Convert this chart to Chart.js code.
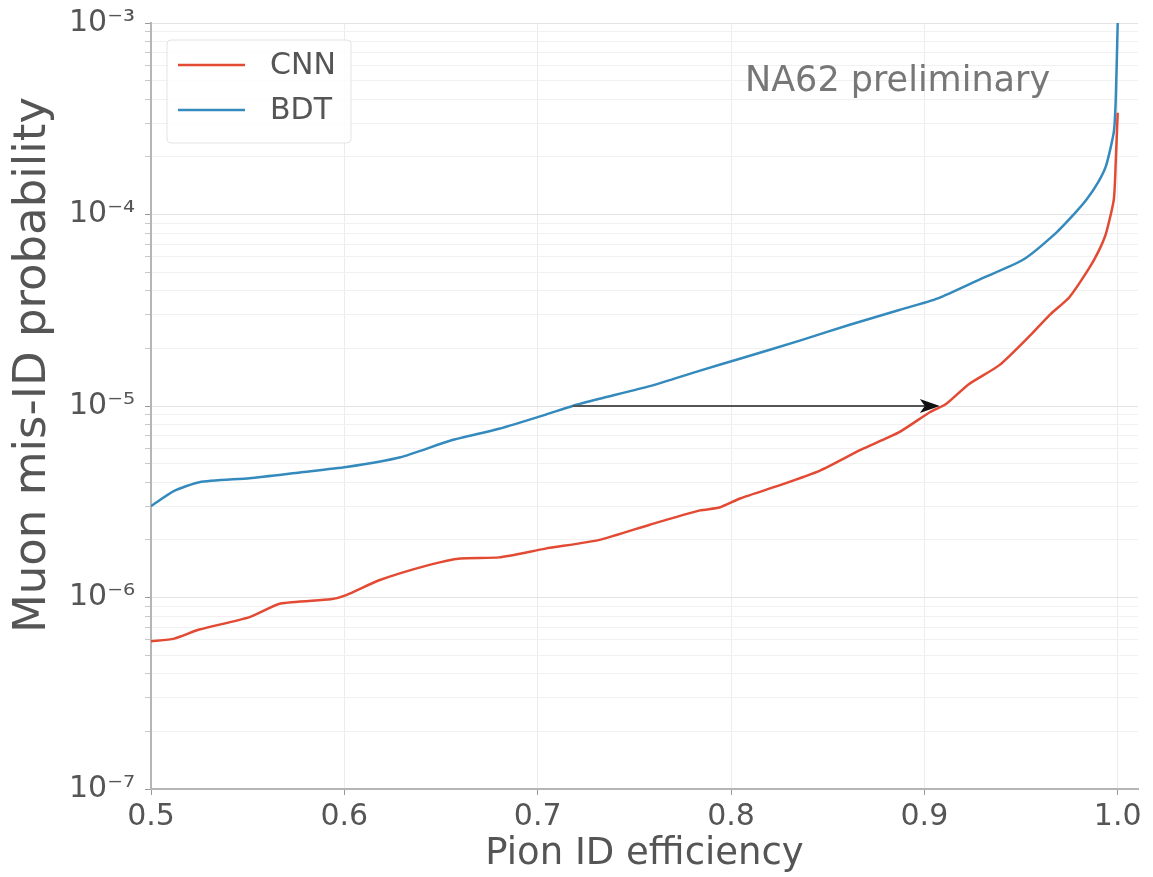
<!DOCTYPE html>
<html>
<head>
<meta charset="utf-8">
<script src="https://cdn.jsdelivr.net/npm/chart.js@4.4.0/dist/chart.umd.min.js"></script>
<style>
html, body { margin: 0; padding: 0; background: #fff; }
</style>
</head>
<body>
<canvas id="rocChart" width="1153" height="877"></canvas>
<script>
// pion ID efficiency vs muon mis-ID probability
const cnnEff = [0.500, 0.512, 0.525, 0.551, 0.567, 0.593, 0.601, 0.618, 0.644, 0.660, 0.680, 0.704, 0.732, 0.758, 0.784, 0.794, 0.805, 0.825, 0.846, 0.867, 0.887, 0.903, 0.911, 0.923, 0.939, 0.955, 0.965, 0.975, 0.985, 0.990, 0.994, 0.998, 0.999, 1.000];
const cnnMis = [5.9e-7, 6.1e-7, 6.8e-7, 7.9e-7, 9.3e-7, 9.8e-7, 1.03e-6, 1.23e-6, 1.48e-6, 1.6e-6, 1.62e-6, 1.8e-6, 2.0e-6, 2.4e-6, 2.85e-6, 2.95e-6, 3.3e-6, 3.85e-6, 4.6e-6, 5.9e-6, 7.3e-6, 9.3e-6, 1.02e-5, 1.3e-5, 1.64e-5, 2.35e-5, 3.0e-5, 3.7e-5, 5.2e-5, 6.4e-5, 8.0e-5, 1.2e-4, 1.9e-4, 3.4e-4];

const bdtEff = [0.500, 0.512, 0.525, 0.551, 0.577, 0.601, 0.629, 0.655, 0.680, 0.704, 0.718, 0.732, 0.758, 0.784, 0.805, 0.836, 0.861, 0.887, 0.907, 0.929, 0.951, 0.968, 0.978, 0.984, 0.990, 0.994, 0.998, 0.999, 1.000];
const bdtMis = [3.0e-6, 3.6e-6, 4.0e-6, 4.2e-6, 4.5e-6, 4.8e-6, 5.4e-6, 6.6e-6, 7.6e-6, 9.0e-6, 1.0e-5, 1.09e-5, 1.27e-5, 1.53e-5, 1.77e-5, 2.2e-5, 2.65e-5, 3.17e-5, 3.65e-5, 4.6e-5, 5.8e-5, 8.0e-5, 1.02e-4, 1.2e-4, 1.48e-4, 1.8e-4, 2.7e-4, 4.0e-4, 1.0e-3];

const xTicks = [0.5, 0.6, 0.7, 0.8, 0.9, 1.0];
const yDecades = [-7, -6, -5, -4, -3];
const supers = { '-': '⁻', '0': '⁰', '1': '¹', '2': '²', '3': '³', '4': '⁴', '5': '⁵', '6': '⁶', '7': '⁷', '8': '⁸', '9': '⁹' };

// arrow from BDT to CNN at the same mis-ID level
const arrowFrom = [0.718, 1e-5];
const arrowTo = [0.908, 1e-5];

const CNN_COLOR = '#e24a33';
const BDT_COLOR = '#348abd';
const TEXT_COLOR = '#555555';

function toPoints(xs, ys) {
    return xs.map((x, i) => ({ x: x, y: ys[i] }));
}

function isDecade(v) {
    const l = Math.log10(v);
    return Math.abs(l - Math.round(l)) < 1e-6;
}

// arrow + text label + legend box + y title
const extras = {
    id: 'extras',
    afterDatasetsDraw(chart) {
        const c = chart.ctx;
        const xs = chart.scales.x, ys = chart.scales.y;
        const area = chart.chartArea;

        // arrow
        const x0 = xs.getPixelForValue(arrowFrom[0]);
        const x1 = xs.getPixelForValue(arrowTo[0]);
        const y0 = ys.getPixelForValue(arrowFrom[1]);
        c.save();
        c.strokeStyle = '#555';
        c.lineWidth = 2;
        c.beginPath();
        c.moveTo(x0, y0);
        c.lineTo(x1 - 10, y0);
        c.stroke();
        c.fillStyle = '#111';
        c.beginPath();
        c.moveTo(x1, y0);
        c.lineTo(x1 - 20, y0 - 7);
        c.lineTo(x1 - 15, y0);
        c.lineTo(x1 - 20, y0 + 7);
        c.closePath();
        c.fill();
        c.restore();

        // NA62 preliminary
        c.save();
        c.fillStyle = '#777';
        c.font = '35px "DejaVu Sans"';
        c.textAlign = 'left';
        c.textBaseline = 'alphabetic';
        c.fillText('NA62 preliminary', 745, 91);
        c.restore();

        // y axis title (sits a little above the axis centre in the original)
        c.save();
        c.translate(33, 365);
        c.rotate(-Math.PI / 2);
        c.fillStyle = TEXT_COLOR;
        c.font = '45px "DejaVu Sans"';
        c.textAlign = 'center';
        c.textBaseline = 'middle';
        c.fillText('Muon mis-ID probability', 0, 0);
        c.restore();

        // legend
        const lx = area.left + 16, ly = area.top + 17;
        c.save();
        c.fillStyle = 'rgba(255,255,255,0.85)';
        c.strokeStyle = '#e3e3e3';
        c.lineWidth = 1;
        c.beginPath();
        c.roundRect(lx, ly, 184, 103, 4);
        c.fill();
        c.stroke();
        const rows = [['CNN', CNN_COLOR], ['BDT', BDT_COLOR]];
        rows.forEach((r, i) => {
            const yy = ly + 25 + i * 45;
            c.strokeStyle = r[1];
            c.lineWidth = 2.5;
            c.beginPath();
            c.moveTo(lx + 11, yy);
            c.lineTo(lx + 78, yy);
            c.stroke();
            c.fillStyle = TEXT_COLOR;
            c.font = '30px "DejaVu Sans"';
            c.textBaseline = 'middle';
            c.fillText(r[0], lx + 103, yy + 1);
        });
        c.restore();
    }
};

new Chart(document.getElementById('rocChart'), {
    type: 'line',
    data: {
        datasets: [{
            label: 'CNN',
            data: toPoints(cnnEff, cnnMis),
            borderColor: CNN_COLOR,
            borderWidth: 2.5,
            pointRadius: 0,
            tension: 0.2,
            fill: false
        }, {
            label: 'BDT',
            data: toPoints(bdtEff, bdtMis),
            borderColor: BDT_COLOR,
            borderWidth: 2.5,
            pointRadius: 0,
            tension: 0.2,
            fill: false
        }]
    },
    options: {
        responsive: false,
        animation: false,
        layout: { padding: { top: 23, right: 15, left: 0, bottom: 0 } },
        plugins: {
            legend: { display: false },
            tooltip: { enabled: false }
        },
        scales: {
            x: {
                type: 'linear',
                min: 0.5,
                max: 1.0105,
                afterBuildTicks: function(scale) {
                    scale.ticks = xTicks.map(v => ({ value: v }));
                },
                afterFit: function(scale) { scale.height = 88; },
                ticks: {
                    color: TEXT_COLOR,
                    font: { family: 'DejaVu Sans', size: 30 },
                    padding: 4,
                    callback: v => v.toFixed(1)
                },
                grid: { color: '#ececec', tickColor: '#999', tickLength: 6 },
                border: { color: '#b5b5b5', width: 2 },
                title: {
                    display: true,
                    text: 'Pion ID efficiency',
                    color: TEXT_COLOR,
                    font: { family: 'DejaVu Sans', size: 37 },
                    padding: { top: -10, bottom: 0 }
                }
            },
            y: {
                type: 'logarithmic',
                min: 1e-7,
                max: 1e-3,
                afterBuildTicks: function(scale) {
                    const t = [];
                    yDecades.forEach(d => {
                        for (let m = 1; m <= 9; m++) {
                            if (d === -3 && m > 1) break;
                            t.push({ value: m * Math.pow(10, d) });
                        }
                    });
                    scale.ticks = t;
                },
                afterFit: function(scale) {
                    scale.width = 151;
                    scale.paddingTop = 0;
                    scale.paddingBottom = 0;
                },
                ticks: {
                    color: TEXT_COLOR,
                    font: { family: 'DejaVu Sans', size: 30 },
                    padding: 10,
                    autoSkip: false,
                    callback: function(v) {
                        if (!isDecade(v)) return '';
                        const e = String(Math.round(Math.log10(v)));
                        return '10' + e.split('').map(ch => supers[ch]).join('');
                    }
                },
                grid: {
                    color: ctx => (ctx.tick && isDecade(ctx.tick.value)) ? '#e4e4e4' : '#f1f1f1',
                    tickColor: ctx => (ctx.tick && isDecade(ctx.tick.value)) ? '#999' : '#c8c8c8',
                    tickLength: 6
                },
                border: { color: '#b5b5b5', width: 2 },
                title: { display: false }
            }
        }
    },
    plugins: [extras]
});
</script>
</body>
</html>
